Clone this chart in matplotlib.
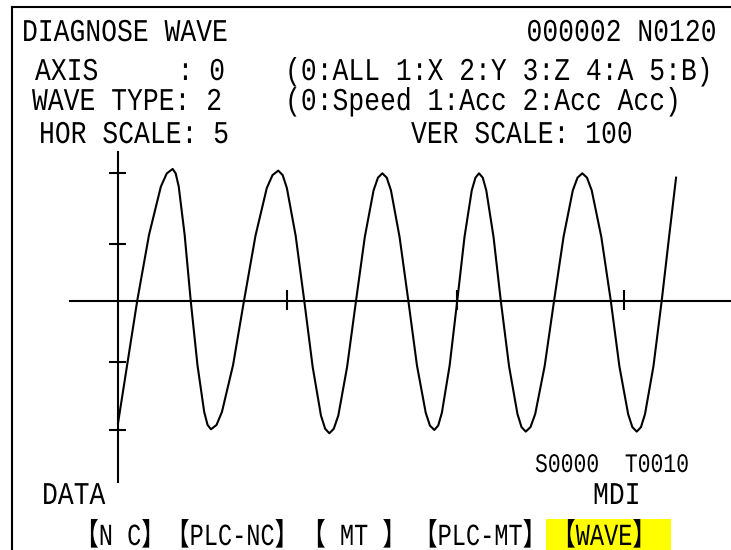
import matplotlib
matplotlib.use("Agg")
import matplotlib.pyplot as plt
from matplotlib.lines import Line2D
from matplotlib.patches import Rectangle
from matplotlib.patheffects import AbstractPathEffect
from matplotlib.transforms import Affine2D

W, H = 731, 550

# wave samples (time units, value units)
wave_x = [0.0, 11.4, 18.4, 25.4, 28.9, 32.4,
          34.2, 36.0, 39.5, 43.1, 47.1, 51.1, 53.1, 55.1,
          58.4, 61.6, 68.2, 74.7, 81.5, 88.2, 91.6, 95.0,
          97.6, 100.1, 105.3, 110.4, 115.4, 120.3, 122.8, 125.3,
          127.9, 130.6, 135.8, 141.1, 146.3, 151.5, 154.1, 156.7,
          159.3, 161.8, 166.9, 172.1, 177.2, 182.4, 184.9, 187.5,
          189.8, 192.0, 196.6, 201.1, 205.4, 209.7, 211.9, 214.0,
          216.2, 218.3, 222.6, 226.9, 231.8, 236.8, 239.2, 241.7,
          244.5, 247.3, 252.9, 258.5, 264.1, 269.6, 272.4, 275.2,
          278.0, 280.8, 286.5, 292.1, 297.2, 302.4, 304.9, 307.5,
          310.0, 312.4, 317.4, 322.3, 326.5, 330.8]
wave_y = [-95.8, 0.0, 51.5, 89.1, 99.4, 102.9,
          99.4, 89.1, 51.5, 0.0, -50.3, -87.0, -97.1, -100.5,
          -97.1, -87.0, -50.3, 0.0, 50.8, 88.0, 98.1, 101.6,
          98.1, 88.0, 50.8, 0.0, -51.8, -89.7, -100.1, -103.6,
          -100.1, -89.7, -51.8, 0.0, 49.8, 86.2, 96.1, 99.5,
          96.1, 86.2, 49.8, 0.0, -50.5, -87.5, -97.6, -101.0,
          -97.6, -87.5, -50.5, 0.0, 49.8, 86.2, 96.1, 99.5,
          96.1, 86.2, 49.8, 0.0, -51.2, -88.6, -98.8, -102.3,
          -98.8, -88.6, -51.2, 0.0, 49.8, 86.2, 96.1, 99.5,
          96.1, 86.2, 49.8, 0.0, -51.2, -88.6, -98.8, -102.3,
          -98.8, -88.6, -51.2, 0.0, 48.0, 96.1]

x_ticks = [100, 201, 300]
y_ticks = [-101, -48, 44, 100]

buttons = ["【N C】", "【PLC-NC】", "【 MT 】", "【PLC-MT】", "【WAVE】"]
button_cx = [120, 232, 354, 480, 604]

MONO = ["Liberation Mono", "Noto Sans CJK SC"]


class Tall(AbstractPathEffect):
    # stretch glyphs upward from the baseline, screen font is tall and narrow
    def __init__(self, sy=1.2):
        super().__init__()
        self._sy = sy

    def draw_path(self, renderer, gc, tpath, affine, rgbFace=None):
        renderer.draw_path(gc, tpath, Affine2D().scale(1.0, self._sy) + affine,
                           rgbFace)


def fx(x):
    return x / W


def fy(y):
    return 1 - y / H


fig = plt.figure(figsize=(W / 100, H / 100), dpi=100)
fig.patch.set_facecolor("white")

ax = fig.add_axes([0, 0, 1, 1])
ax.axis("off")
ax.set_xlim(-69.95, 363.37)
ax.set_ylim(-194.8, 234.9)

lw = 1.5
# scope axes
ax.plot([0, 0], [-141.6, 116.2], color="black", lw=lw)
ax.plot([-28.5, 370], [0, 0], color="black", lw=lw)
ax.hlines(y_ticks, -5.3, 4.7, color="black", lw=lw)
ax.vlines(x_ticks, -7.3, 8.4, color="black", lw=lw)

ax.plot(wave_x, wave_y, color="black", lw=lw, solid_joinstyle="round")

# screen frame
fig.add_artist(Line2D([fx(11.7), fx(11.7)], [fy(6.7), 0], color="black", lw=lw,
                      transform=fig.transFigure))
fig.add_artist(Line2D([fx(11.7), 1], [fy(6.7), fy(6.7)], color="black", lw=lw,
                      transform=fig.transFigure))


def label(x, y, s, size=19, ha="left", sy=1.2, z=3):
    fig.text(fx(x), fy(y), s, family=MONO, fontsize=size, ha=ha,
             va="baseline", color="black", zorder=z,
             path_effects=[Tall(sy)])


label(22, 41, "DIAGNOSE WAVE")
label(717, 41, "000002 N0120", ha="right")
label(35, 80, "AXIS     : 0")
label(285, 80, "(0:ALL 1:X 2:Y 3:Z 4:A 5:B)")
label(32, 110, "WAVE TYPE: 2")
label(285, 110, "(0:Speed 1:Acc 2:Acc Acc)")
label(39, 143, "HOR SCALE: 5")
label(411, 143, "VER SCALE: 100")
label(535, 472, "S0000  T0010", size=15.4, sy=1.25)
label(42, 504, "DATA")
label(593, 504, "MDI")

fig.add_artist(Rectangle((fx(546), 0), (671 - 546) / W, (H - 519) / H,
                         transform=fig.transFigure, facecolor="#ffff00",
                         edgecolor="none", zorder=0))
for b, cx in zip(buttons, button_cx):
    label(cx, 545, b, size=17, ha="center", sy=1.3)

fig.savefig("out.png", dpi=100, facecolor="white")
